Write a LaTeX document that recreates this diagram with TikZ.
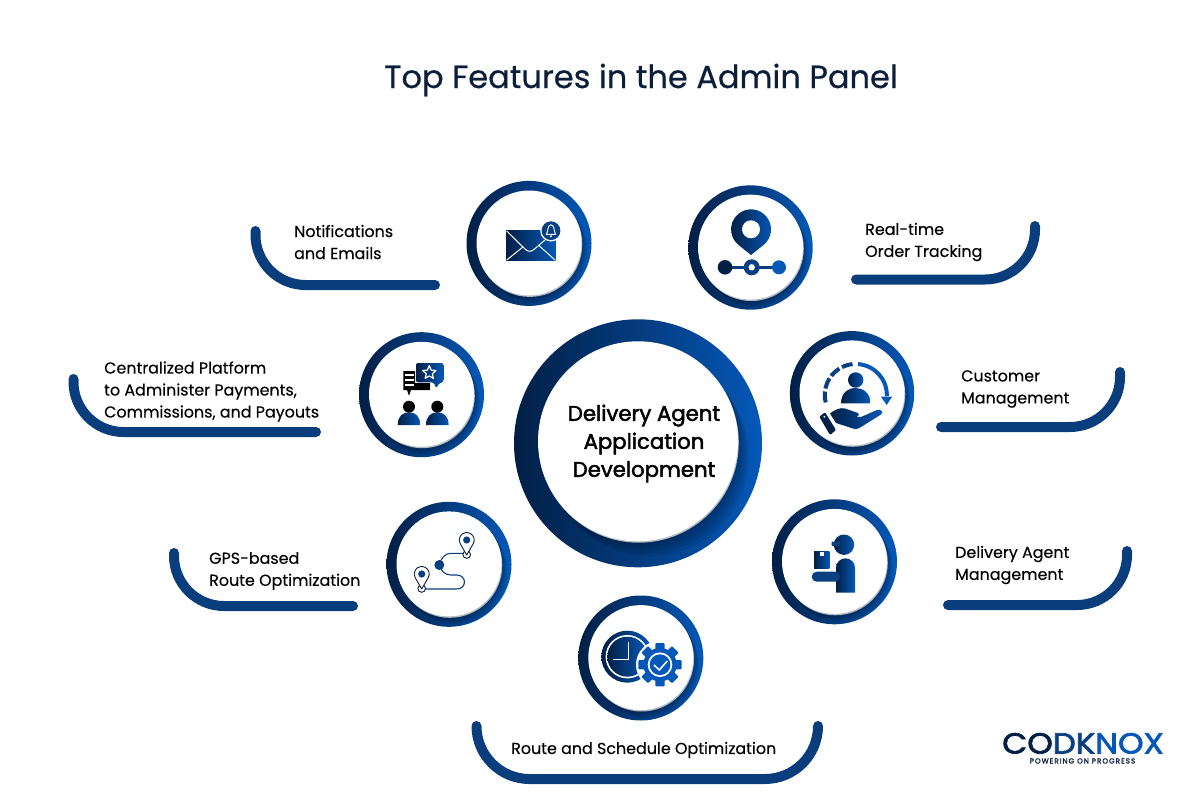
\documentclass[tikz,border=0pt]{standalone}
\usepackage{fontspec}
\setmainfont{Poppins}
\newfontfamily\labelfont[FakeBold=.25]{Poppins}
\newfontfamily\titlefont[FakeBold=.5]{Poppins}
\newfontfamily\hubfont[FakeBold=2.2]{Poppins}
\newfontfamily\wordfont[FakeBold=2.4,FakeStretch=1.12]{Poppins}
\newfontfamily\tagfont[LetterSpace=14,FakeBold=1.4]{Poppins}
\usetikzlibrary{positioning}
\definecolor{ringL}{HTML}{021F45}
\definecolor{ringM}{HTML}{0A3F80}
\definecolor{ringR}{HTML}{0558B8}
\definecolor{arcnavy}{HTML}{0A3D7C}
\definecolor{inknavy}{HTML}{0B1F3A}
\definecolor{rimgrey}{HTML}{B4B9C2}
\begin{document}
\begin{tikzpicture}[x=1pt,y=1pt,yscale=-1,
  ringdisc/.style={circle,inner sep=0pt,left color=ringL,middle color=ringM,right color=ringR},
  whitedisc/.style={circle,inner sep=0pt,fill=white},
  arcline/.style={draw=arcnavy,line width=10pt,line cap=round},
  featuretext/.style={anchor=west,align=left,inner sep=0pt,text=black,font=\labelfont\fontsize{15.9}{22}\selectfont},
  icon/.style={left color=ringL,right color=ringR}]
  \useasboundingbox (0,0) rectangle (1200,800);
  \node[font=\titlefont\fontsize{32}{36}\selectfont,text=inknavy] (title) at (641,80) {Top Features in the Admin Panel};
  % rings: x/y/outer radius/inner radius/inner shift/name
  \foreach \x/\y/\ro/\ri/\dy/\n in {638/443.3/124/100/-2/hub,529/243.4/62.5/52.5/-.4/mail,750.5/247.5/62.2/52.5/-.4/track,
    421.5/394.7/62.5/52.5/-.4/platform,449/564.3/62.5/52.5/-.4/route,852/393.3/62.2/52.5/-.4/customer,
    834.5/561.8/62.5/52.5/-.4/agent,640.8/658/62.5/52.5/-.4/schedule} {
   \node[ringdisc,minimum size={2*\ro pt}] (\n ring) at (\x,\y) {};
   \begin{scope}
    \clip (\x,\y) circle (\ro);
    \foreach \k in {1,...,5}
     \fill[black,opacity=.07] ({\x+\k*\ri*.022},{\y+\dy+\k*\ri*.03}) circle (\ri);
   \end{scope}
   \fill[rimgrey] ({\x+.8},{\y+\dy+1.4}) circle (\ri);
   \node[whitedisc,minimum size={2*\ri pt}] (\n) at (\x,{\y+\dy}) {};
  }
  \node[align=center,font=\hubfont\fontsize{21.2}{28}\selectfont] (hubtext) at (644,443.5) {Delivery Agent\\Application\hspace*{5pt}\\Development};
  % curved bars under the captions
  \draw[arcline] (255.5,231) -- (255.5,235) arc (180:90:50) -- (435,285);
  \draw[arcline] (73.5,379) -- (73.5,382) arc (180:90:50) -- (316,432);
  \draw[arcline] (174,553) -- (174,556) arc (180:90:50) -- (353,606);
  \draw[arcline] (856,279.5) -- (985,279.5) arc (90:0:50) -- (1035,226);
  \draw[arcline] (941,427) -- (1070,427) arc (90:0:50) -- (1120,372);
  \draw[arcline] (948,605) -- (1077,605) arc (90:0:50) -- (1127,551);
  \draw[arcline] (476.5,726) arc (180:90:53) -- (765,779) arc (90:0:53);
  \node[featuretext] (mailtext) at (294,242) {Notifications\\and Emails};
  \node[featuretext] (platformtext) at (104,391.5) {Centralized Platform\\to Administer Payments,\\Commissions, and Payouts};
  \node[featuretext] (routetext) at (209,571) {GPS-based\\Route Optimization};
  \node[featuretext] (tracktext) at (865,242) {Real-time\\Order Tracking};
  \node[featuretext] (customertext) at (961,389) {Customer\\Management};
  \node[featuretext] (agenttext) at (955,565) {Delivery Agent\\Management};
  \node[featuretext] (scheduletext) at (511,750) {Route and Schedule Optimization};
  % envelope with bell
  \shade[icon] (506,230.7) rectangle (555.7,260);
  \draw[white,line width=1pt,line join=round] (506.7,231) -- (525,249) .. controls (528,252) and (531,252) .. (534,249.5) -- (545,240);
  \draw[white,line width=1pt] (506.7,260) -- (523.3,246.7) (555,260) -- (538.3,245);
  \fill[white] (551,230.7) circle (10.8);
  \fill[ringM] (551,230.7) circle (9.4);
  \draw[white,line width=.9pt,line join=round] (546.2,234.3) .. controls (548.5,232) and (547,225) .. (551,224.8) .. controls (555,225) and (553.5,232) .. (555.8,234.3) -- cycle;
  \fill[white] (551,236.3) circle (1.1);
  % location pin on a track
  \shade[icon] (751,255) -- (763.6,244.9) arc (51.1:-231.1:20) -- cycle;
  \fill[white] (751,229.3) circle (9);
  \fill[ringM] (725,265.7) rectangle (779,268.9);
  \fill[ringL] (725,267.3) circle (7.3);
  \fill[ringR] (779,267.3) circle (7);
  \fill[ringM] (751.7,267.3) circle (8);
  \fill[white] (751.7,267.3) circle (3.2);
  % two people and speech bubbles
  \fill[black] (403.3,371) -- (415,371) -- (415,383) -- (430,383) -- (430,390) -- (411,390) -- (409,395.7) -- (407,390) -- (403.3,390) -- cycle;
  \foreach \y in {375,380,385} \fill[white] (404.6,{\y-.7}) rectangle (413.5,{\y+.7});
  \shade[icon,rounded corners=2pt] (416,363) -- (443.3,363) -- (443.3,382.3) -- (440,382.3) -- (436,388.3) -- (434,382.3) -- (416,382.3) -- cycle;
  \draw[white,line width=1.2pt,line join=round,shift={(429.3,372.7)}] (-90:7) \foreach \a/\r in {-54/3.2,-18/7,18/3.2,54/7,90/3.2,126/7,162/3.2,198/7,234/3.2} {-- (\a:\r)} -- cycle;
  \foreach \x in {409,437.3} {
   \fill[black] (\x,406.7) circle (6);
   \shade[icon] ({\x-11.3},425) .. controls ({\x-11.3},416) and ({\x-6},412.3) .. (\x,412.3) .. controls ({\x+6},412.3) and ({\x+11.3},416) .. ({\x+11.3},425) -- cycle;
  }
  % route between two pins
  \draw[arcnavy,line width=1.1pt] (463,553.3) -- (451,553.3) .. controls (445,553.3) and (441,558) .. (439.3,565) .. controls (441,571) and (445,575) .. (451,575) -- (456.7,575) .. controls (467,575) and (467,589) .. (456.7,589) -- (425,589);
  \fill[ringM] (439.3,565) circle (5);
  \foreach \x/\y in {466.7/540,421.7/574} {
   \draw[inknavy,line width=.9pt,fill=white] (\x,{\y+14.5}) circle (3.8);
   \draw[inknavy,line width=.9pt,fill=white,line join=round] (\x,{\y+15}) -- ({\x+6.5},{\y+3.75}) arc (30:-210:7.5) -- cycle;
   \fill[ringM] (\x,\y) circle (3.6);
  }
  % customer in a turning circle, on a hand
  \shade[icon] (855.7,380) circle (7.7);
  \shade[icon] (841,403.3) .. controls (841,393) and (848,388) .. (855.7,388) .. controls (863,388) and (870.5,393) .. (870.5,403.3) -- cycle;
  \draw[ringR,line width=4pt] (858,364.1) arc (-86:2:31);
  \fill[ringR] (886.7,405) -- (880.8,396.5) -- (892.2,396.5) -- cycle;
  \draw[ringM,line width=4pt,dash pattern=on 11pt off 3pt] (852.5,364.1) arc (-96:-195:31);
  \shade[icon,line join=round] (830,413.5) .. controls (836,409) and (840,407.5) .. (845,408.5) -- (858,413) .. controls (860,415) and (858,416.5) .. (855,416.5) -- (861,417) -- (877,410) .. controls (881,409) and (884,412) .. (881,414.5) -- (861,427) .. controls (857,430) and (854,429) .. (850,427.5) -- (836,423) -- cycle;
  \fill[ringL,rounded corners=1pt] (819.3,416.7) -- (825,412.3) -- (836,430) -- (830,435) -- cycle;
  \fill[white] (824.3,416.7) circle (1);
  % courier holding a parcel
  \shade[icon] (844,544.7) circle (10.2);
  \fill[ringM,rounded corners=1pt] (831.7,541.5) rectangle (840,546);
  \shade[icon] (836,592.7) -- (836,567.8) arc (180:360:9.5) -- (855,592.7) -- cycle;
  \fill[ringM,rounded corners=5pt] (811.7,571.7) rectangle (840,581.7);
  \shade[icon] (814,551.7) rectangle (829.3,568.3);
  \fill[white] (820,551.7) rectangle (823.5,556);
  % clock and gear
  \shade[icon] (627.3,656.7) circle (26);
  \fill[white] (627.3,656.7) circle (21.7);
  \shade[icon] (627.3,656.7) circle (20);
  \draw[white,line width=1.5pt] (628.3,641.7) -- (628.3,659.3) -- (613.3,659.3);
  \fill[white] (660,664.7) circle (24);
  \foreach \a in {0,45,...,315}
   \fill[ringR,rotate around={\a:(660,664.7)},rounded corners=1pt] (655.3,643) rectangle (664.7,650);
  \fill[ringR] (660,664.7) circle (16.7);
  \fill[white] (660,664.7) circle (12.3);
  \fill[ringR] (660,664.7) circle (10.4);
  \draw[white,line width=1.5pt] (654,665) -- (659.3,670) -- (667.3,661);
  % wordmark
  \node[anchor=base,inner sep=0pt,text height=20pt,text depth=0pt,font=\wordfont\fontsize{29}{29}\selectfont] (logo) at (1083,753.5) {\color{ringL}C\color{ringL}O\color{ringM}D\color{ringM}K\color{ringR}N\color{ringR}O\color{ringR}X};
  \node[anchor=base,inner sep=0pt,text height=5pt,text depth=0pt,font=\tagfont\fontsize{7.2}{8}\selectfont,text=inknavy] (tagline) at (1082.5,763.5) {POWERING ON PROGRESS};
\end{tikzpicture}
\end{document}
